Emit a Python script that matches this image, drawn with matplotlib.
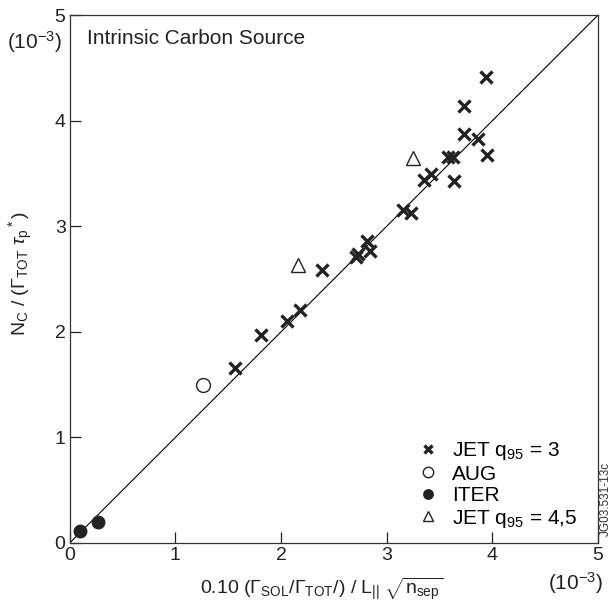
import numpy as np
import matplotlib.pyplot as plt

plt.rcParams['font.family'] = ['Liberation Sans', 'DejaVu Sans']
plt.rcParams['mathtext.fontset'] = 'custom'
plt.rcParams['mathtext.rm'] = 'Liberation Sans'
plt.rcParams['mathtext.it'] = 'Liberation Sans:italic'
plt.rcParams['mathtext.sf'] = 'Liberation Sans'

# JET q95 = 3 shots (units of 1e-3)
jet3_x = [3.94, 3.73, 3.73, 3.86, 3.95, 3.58, 3.63, 3.42, 3.35, 3.64, 3.15, 3.23,
          2.71, 2.73, 2.81, 2.84, 2.39, 2.18, 2.06, 1.81, 1.56]
jet3_y = [4.41, 4.14, 3.87, 3.83, 3.68, 3.66, 3.66, 3.50, 3.44, 3.43, 3.15, 3.13,
          2.71, 2.74, 2.86, 2.77, 2.59, 2.21, 2.10, 1.97, 1.66]
# JET q95 = 4,5
jet45_x = [3.25, 2.16]
jet45_y = [3.65, 2.63]
# AUG
aug_x = [1.26]
aug_y = [1.50]
# ITER predictions
iter_x = [0.10, 0.27]
iter_y = [0.11, 0.20]

ink = '#222222'

fig = plt.figure(figsize=(6.12, 6.08), dpi=100)
ax = fig.add_axes([0.114, 0.107, 0.863, 0.868])

ax.plot([0, 5], [0, 5], color='black', lw=0.8, zorder=1)

ax.plot(jet3_x, jet3_y, 'x', color=ink, ms=8.5, mew=2.4, label='JET q$_{95}$ = 3', zorder=3)
ax.plot(aug_x, aug_y, 'o', mfc='white', mec=ink, ms=10, mew=1.0, label='AUG', zorder=3)
ax.plot(iter_x, iter_y, 'o', color=ink, ms=9, label='ITER', zorder=3)
ax.plot(jet45_x, jet45_y, '^', mfc='white', mec=ink, ms=10, mew=1.0,
        label='JET q$_{95}$ = 4,5', zorder=3)

ax.set_xlim(0, 5)
ax.set_ylim(0, 5)
ax.set_xticks(range(6))
ax.set_yticks(range(6))
ax.tick_params(direction='in', length=8, width=0.9, labelsize=14, colors=ink,
               top=False, right=False, pad=3)
for sp in ax.spines.values():
    sp.set_linewidth(0.9)
    sp.set_color('#333333')

ax.set_xlabel(r'0.10 ($\Gamma_\mathrm{SOL}$/$\Gamma_\mathrm{TOT}$/) / L$_{||}$ $\sqrt{\mathrm{n_{sep}}}$',
              fontsize=14, color=ink)
ax.xaxis.set_label_coords(0.477, -0.062)
ax.set_ylabel(r'N$_\mathrm{C}$ / ($\Gamma_\mathrm{TOT}$ $\tau_\mathrm{p}$$^*$)',
              fontsize=14, color=ink)
ax.yaxis.set_label_coords(-0.066, 0.51)

ax.text(0.032, 0.955, 'Intrinsic Carbon Source', transform=ax.transAxes,
        fontsize=15, color=ink, va='center')
fig.text(0.056, 0.931, r'(10$^{-3}$)', fontsize=15, color=ink, ha='center', va='center')
fig.text(0.94, 0.041, r'(10$^{-3}$)', fontsize=15, color=ink, ha='center', va='center')
# drawing reference number along the right edge
fig.text(0.999, 0.118, 'JG03.531-13c', rotation=90, fontsize=8.5, color='#333333',
         ha='right', va='bottom')

ax.legend(loc='lower right', frameon=False, fontsize=15, markerscale=0.75,
          handlelength=1.0, handletextpad=0.65, labelspacing=0.12,
          borderpad=0, borderaxespad=0, bbox_to_anchor=(0.962, 0.025))

fig.savefig('out.png', dpi=100)
